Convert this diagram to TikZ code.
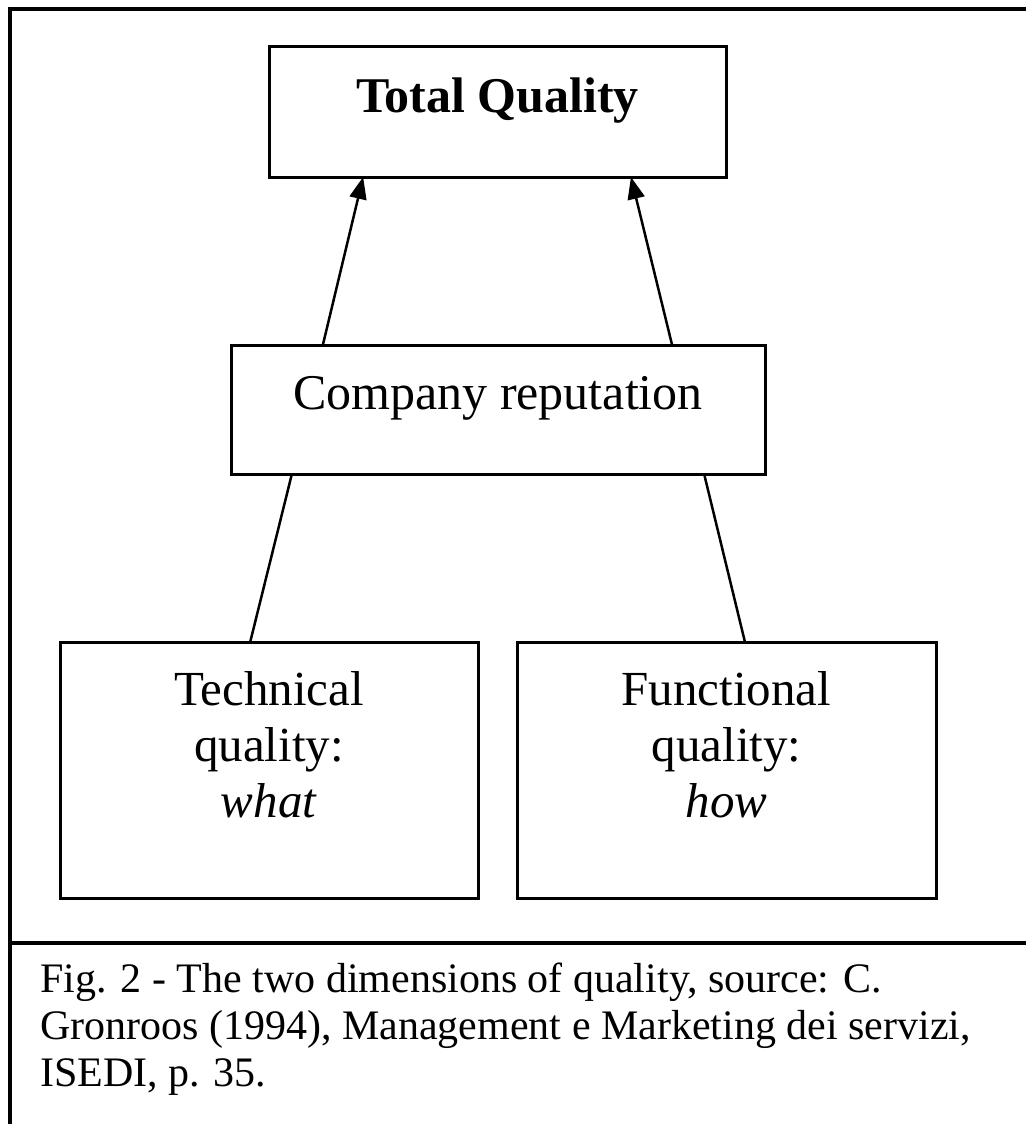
\documentclass[tikz,border=0pt]{standalone}
\usepackage{fontspec}
\setmainfont{Liberation Serif}
\usetikzlibrary{arrows.meta,calc}

\begin{document}
\begin{tikzpicture}[
  x=1pt, y=-1pt,
  box/.style={draw, line width=3pt, inner sep=0pt, outer sep=0pt, rectangle},
  mainfont/.style={font=\fontsize{50}{56}\selectfont},
  leaffont/.style={font=\fontsize{49}{56}\selectfont},
  conn/.style={line width=2.5pt},
  arr/.style={conn, -{Triangle[length=22pt,width=17pt]}},
  frame/.style={line width=3.5pt}
]
\useasboundingbox (0,0) rectangle (1025,1124);
\fill[white] (0,0) rectangle (1025,1124);

% outer frame (open towards right and bottom) and caption divider
\draw[frame] (1030,9) -- (10,9) -- (10,1130);
\draw[frame] (10,943) -- (1030,943);

% boxes
\node[box, mainfont, minimum width=457pt, minimum height=130pt] (tq) at (497.5,112)
  {\raisebox{0pt}[0pt][0pt]{\textbf{Total Quality}}};
\node[box, mainfont, minimum width=534pt, minimum height=129pt] (rep) at (498,409.5)
  {\raisebox{0pt}[0pt][0pt]{Company reputation}};
\node[box, leaffont, minimum width=418pt, minimum height=256pt] (tech) at (269,770)
  {\raisebox{-47pt}[0pt][0pt]{\begin{tabular}[b]{@{}c@{}}Technical\\quality:\\\textit{what}\end{tabular}}};
\node[box, leaffont, minimum width=419pt, minimum height=256pt] (func) at (726.5,770)
  {\raisebox{-47pt}[0pt][0pt]{\begin{tabular}[b]{@{}c@{}}Functional\\quality:\\\textit{how}\end{tabular}}};

% connector end points along the box edges
\coordinate (techT) at ($(tech.north west)!0.455!(tech.north east)$);
\coordinate (funcT) at ($(func.north west)!0.544!(func.north east)$);
\coordinate (repBL) at ($(rep.south west)!0.114!(rep.south east)$);
\coordinate (repBR) at ($(rep.south west)!0.886!(rep.south east)$);
\coordinate (repTL) at ($(rep.north west)!0.172!(rep.north east)$);
\coordinate (repTR) at ($(rep.north west)!0.826!(rep.north east)$);
\coordinate (tqBL) at ($(tq.south west)!0.206!(tq.south east)$);
\coordinate (tqBR) at ($(tq.south west)!0.792!(tq.south east)$);

% connectors
\draw[conn] (techT) -- (repBL);
\draw[conn] (funcT) -- (repBR);
\draw[arr] (repTL) -- (tqBL);
\draw[arr] (repTR) -- (tqBR);

% caption
\node[inner sep=0pt, anchor=base west, font=\fontsize{42}{47}\selectfont] (caption) at (40,992)
  {\raisebox{0pt}[0pt][0pt]{\begin{tabular}[t]{@{}l@{}}Fig. 2 - The two dimensions of quality, source: C.\\Gronroos (1994), Management e Marketing dei servizi,\\ISEDI, p. 35.\end{tabular}}};
\end{tikzpicture}
\end{document}
